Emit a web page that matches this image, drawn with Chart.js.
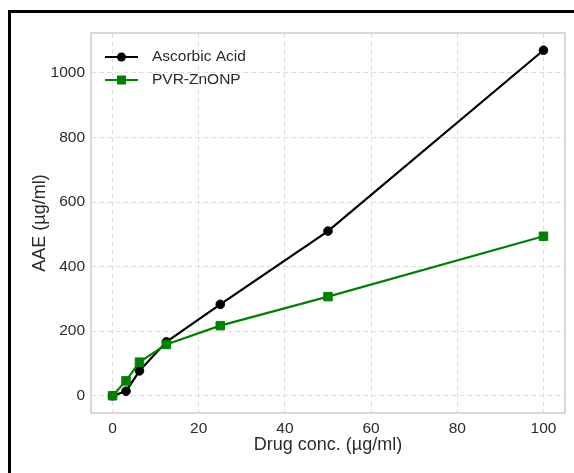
<!DOCTYPE html>
<html>
<head>
<meta charset="utf-8">
<script src="https://cdn.jsdelivr.net/npm/chart.js@4.4.1/dist/chart.umd.min.js"></script>
<style>
  html, body { margin: 0; padding: 0; background: #fff; }
  #wrap { width: 574px; height: 473px; position: relative; }
</style>
</head>
<body>
<div id="wrap"><canvas id="chart"></canvas></div>
<script>
// AAE vs drug concentration
const concs = [0, 3.125, 6.25, 12.5, 25, 50, 100];
const ascorbic = [0, 14, 77, 167, 283, 510, 1070];
const pvrZnonp = [0, 46, 104, 159, 217, 307, 494];
const seriesNames = ['Ascorbic Acid', 'PVR-ZnONP'];
const xTicks = [0, 20, 40, 60, 80, 100];
const yTicks = [0, 200, 400, 600, 800, 1000];

const textColor = '#2b2b2b';
const fontFamily = '"Liberation Sans", Arial, sans-serif';

function toPoints(xs, ys) {
  return xs.map((x, i) => ({x: x, y: ys[i]}));
}

// outer black frame (top + left only) and light gray axes box
const framePlugin = {
  id: 'frames',
  beforeDraw(chart) {
    const ctx = chart.ctx;
    ctx.save();
    ctx.fillStyle = '#fff';
    ctx.fillRect(0, 0, chart.width, chart.height);
    ctx.restore();
  },
  afterDatasetsDraw(chart) {
    const {ctx, chartArea: a} = chart;
    ctx.save();
    ctx.strokeStyle = '#cccccc';
    ctx.lineWidth = 1.5;
    ctx.strokeRect(a.left, a.top, a.right - a.left, a.bottom - a.top);
    ctx.strokeStyle = '#000';
    ctx.lineWidth = 3;
    ctx.beginPath();
    ctx.moveTo(9.5, chart.height);
    ctx.lineTo(9.5, 11.5);
    ctx.lineTo(chart.width, 11.5);
    ctx.stroke();
    ctx.restore();
  }
};

// legend inside the axes, top-left, line + marker like matplotlib
const legendPlugin = {
  id: 'innerLegend',
  afterDraw(chart) {
    const ctx = chart.ctx;
    const a = chart.chartArea;
    ctx.save();
    ctx.font = '15.5px ' + fontFamily;
    ctx.textBaseline = 'middle';
    chart.data.datasets.forEach((ds, i) => {
      const y = a.top + 24 + i * 23;
      const x0 = a.left + 14, x1 = a.left + 47, xm = (x0 + x1) / 2;
      ctx.strokeStyle = ds.borderColor;
      ctx.lineWidth = 2.2;
      ctx.beginPath();
      ctx.moveTo(x0, y);
      ctx.lineTo(x1, y);
      ctx.stroke();
      ctx.fillStyle = ds.pointBackgroundColor;
      if (ds.pointStyle === 'rect') {
        ctx.fillRect(xm - 4.5, y - 4.5, 9, 9);
      } else {
        ctx.beginPath();
        ctx.arc(xm, y, 4.5, 0, Math.PI * 2);
        ctx.fill();
      }
      ctx.fillStyle = textColor;
      ctx.fillText(ds.label, a.left + 61, y);
    });
    ctx.restore();
  }
};

new Chart(document.getElementById('chart').getContext('2d'), {
  type: 'line',
  data: {
    datasets: [
      {
        label: seriesNames[0],
        data: toPoints(concs, ascorbic),
        borderColor: '#000000',
        backgroundColor: '#000000',
        pointBackgroundColor: '#000000',
        pointBorderColor: '#000000',
        pointStyle: 'circle',
        pointRadius: 4.3,
        pointBorderWidth: 1,
        borderWidth: 2.2,
        tension: 0,
        order: 1
      },
      {
        label: seriesNames[1],
        data: toPoints(concs, pvrZnonp),
        borderColor: '#008000',
        backgroundColor: '#008000',
        pointBackgroundColor: '#008000',
        pointBorderColor: '#008000',
        pointStyle: 'rect',
        pointRadius: 6,
        pointBorderWidth: 1,
        borderWidth: 2.2,
        tension: 0,
        order: 0
      }
    ]
  },
  options: {
    responsive: true,
    maintainAspectRatio: false,
    animation: false,
    layout: { padding: { left: 0, top: 33, right: 9, bottom: 0 } },
    plugins: {
      legend: { display: false },
      tooltip: { enabled: false }
    },
    scales: {
      x: {
        type: 'linear',
        min: -5,
        max: 105,
        afterBuildTicks: s => { s.ticks = xTicks.map(v => ({value: v})); },
        afterFit: s => { s.height = 60; },
        grid: { color: '#dddddd', lineWidth: 1, drawTicks: false },
        border: { display: false, dash: [5, 3] },
        ticks: {
          color: textColor,
          padding: 6,
          maxRotation: 0,
          callback: v => String(v),
          font: { family: fontFamily, size: 15.5 }
        },
        title: {
          display: true,
          text: 'Drug conc. (µg/ml)',
          color: textColor,
          font: { family: fontFamily, size: 18 },
          padding: { top: 0, bottom: 17 }
        }
      },
      y: {
        type: 'linear',
        min: -53.5,
        max: 1123.5,
        afterBuildTicks: s => { s.ticks = yTicks.map(v => ({value: v})); },
        afterFit: s => { s.width = 91; },
        grid: { color: '#dddddd', lineWidth: 1, drawTicks: false },
        border: { display: false, dash: [5, 3] },
        ticks: {
          color: textColor,
          padding: 6,
          callback: v => String(v),
          font: { family: fontFamily, size: 15.5 }
        },
        title: {
          display: true,
          text: 'AAE (µg/ml)',
          color: textColor,
          font: { family: fontFamily, size: 18 },
          padding: { top: 29, bottom: 0 }
        }
      }
    }
  },
  plugins: [framePlugin, legendPlugin]
});
</script>
</body>
</html>
